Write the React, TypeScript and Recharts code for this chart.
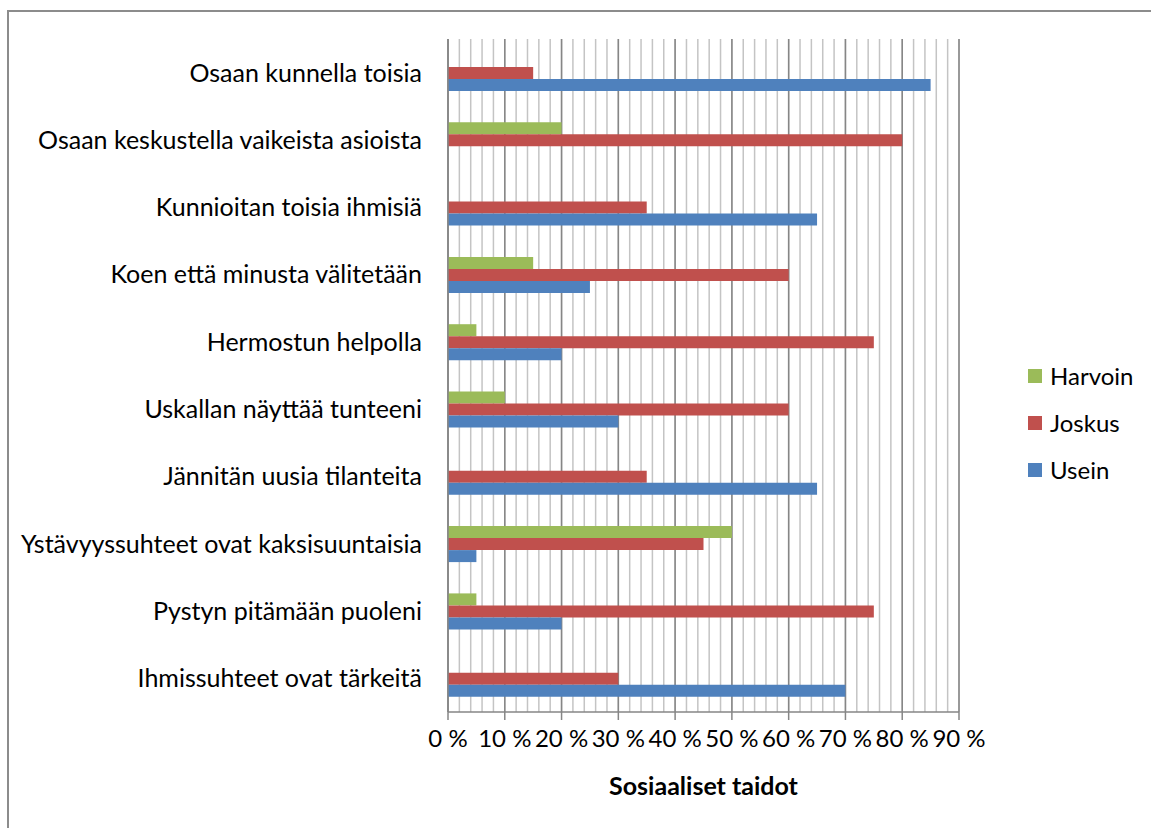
import React from "react";
import { BarChart, Bar, XAxis, YAxis, CartesianGrid, Label } from "recharts";

const categories = [
  "Osaan kunnella toisia",
  "Osaan keskustella vaikeista asioista",
  "Kunnioitan toisia ihmisiä",
  "Koen että minusta välitetään",
  "Hermostun helpolla",
  "Uskallan näyttää tunteeni",
  "Jännitän uusia tilanteita",
  "Ystävyyssuhteet ovat kaksisuuntaisia",
  "Pystyn pitämään puoleni",
  "Ihmissuhteet ovat tärkeitä",
];

const harvoin = [0, 20, 0, 15, 5, 10, 0, 50, 5, 0];
const joskus = [15, 80, 35, 60, 75, 60, 35, 45, 75, 30];
const usein = [85, 0, 65, 25, 20, 30, 65, 5, 20, 70];

const majorTicks = [0, 10, 20, 30, 40, 50, 60, 70, 80, 90];
const minorTicks = Array.from({ length: 46 }, (_, i) => i * 2);

const series = [
  { key: "Harvoin", color: "#9bbb59" },
  { key: "Joskus", color: "#c0504d" },
  { key: "Usein", color: "#4f81bd" },
];

const data = categories.map((name, i) => ({
  name,
  Harvoin: harvoin[i],
  Joskus: joskus[i],
  Usein: usein[i],
}));

const FONT = "Lato, 'Open Sans', sans-serif";
const AXIS = "#868686";

export default function App() {
  return (
    <div style={{ position: "absolute", left: 0, top: 0, width: 1151, height: 828, background: "#fff", fontFamily: FONT }}>
      <div
        style={{
          position: "absolute",
          left: 7,
          top: 10,
          width: 1144,
          height: 818,
          borderTop: "2px solid #8c8c8c",
          borderLeft: "2px solid #8c8c8c",
          boxSizing: "border-box",
        }}
      />
      <BarChart
        width={1151}
        height={828}
        data={data}
        layout="vertical"
        margin={{ top: 39, right: 192, bottom: 0, left: 0 }}
        barSize={12}
        barGap={0}
        style={{ position: "absolute", left: 0, top: 0 }}
      >
        {/* light lines every 2 %, darker ones every 10 % */}
        <CartesianGrid horizontal={false} verticalValues={minorTicks} stroke="#c4c4c4" strokeWidth={1.5} />
        <CartesianGrid horizontal={false} verticalValues={majorTicks} stroke={AXIS} strokeWidth={1.5} />
        <XAxis
          type="number"
          domain={[0, 90]}
          ticks={majorTicks}
          interval={0}
          height={116}
          tickSize={8}
          tickMargin={10}
          tickFormatter={(v: number) => `${v} %`}
          axisLine={{ stroke: AXIS, strokeWidth: 1.5 }}
          tickLine={{ stroke: AXIS, strokeWidth: 1.5 }}
          tick={{ fill: "#000", fontSize: 24, fontFamily: FONT }}
        >
          <Label
            value="Sosiaaliset taidot"
            position="insideBottom"
            offset={33}
            style={{ fill: "#000", fontSize: 25, fontWeight: 700, fontFamily: FONT }}
          />
        </XAxis>
        <YAxis
          type="category"
          dataKey="name"
          width={448}
          tickSize={0}
          tickMargin={26}
          tickLine={false}
          axisLine={{ stroke: AXIS, strokeWidth: 1.5 }}
          tick={{ fill: "#000", fontSize: 25, fontFamily: FONT }}
        />
        {series.map((s) => (
          <Bar key={s.key} dataKey={s.key} fill={s.color} isAnimationActive={false} />
        ))}
      </BarChart>
      <div style={{ position: "absolute", left: 1028, top: 352 }}>
        {series.map((s) => (
          <div key={s.key} style={{ display: "flex", alignItems: "center", height: 47 }}>
            <span style={{ width: 14, height: 14, background: s.color, display: "inline-block", marginRight: 8 }} />
            <span style={{ fontSize: 24, color: "#000", lineHeight: "24px" }}>{s.key}</span>
          </div>
        ))}
      </div>
    </div>
  );
}
